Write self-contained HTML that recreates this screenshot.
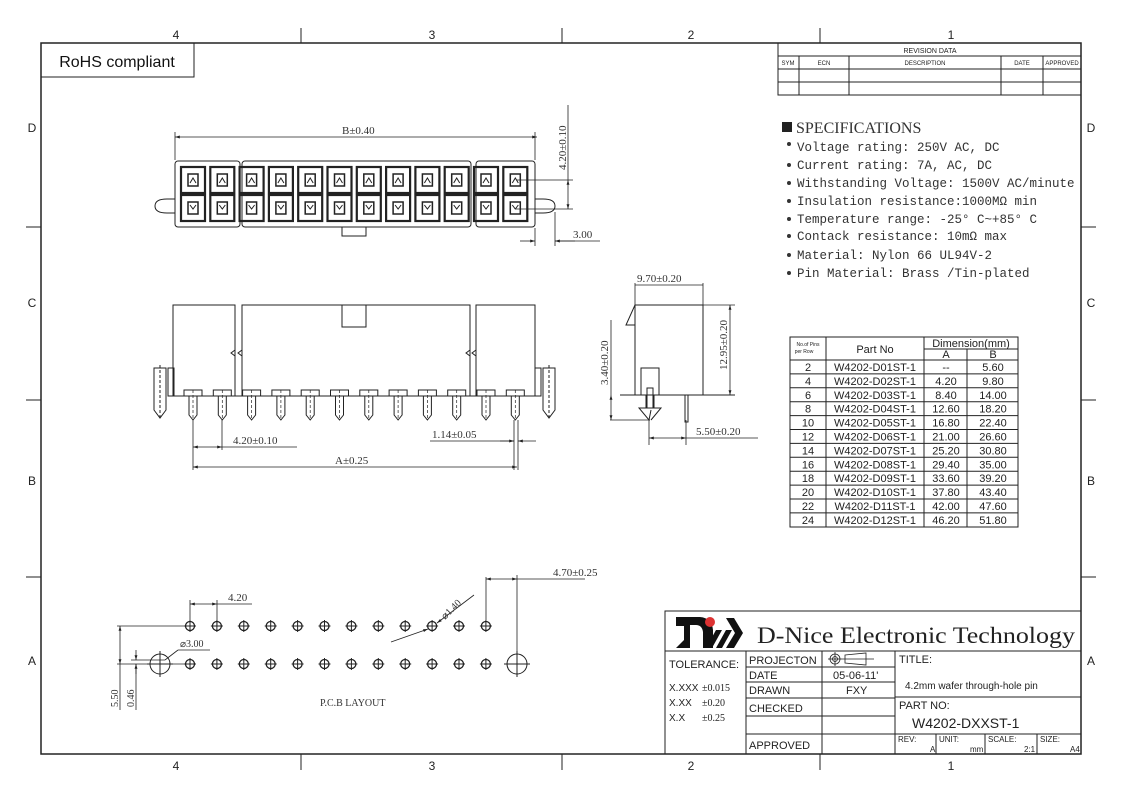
<!DOCTYPE html>
<html><head><meta charset="utf-8"><style>
html,body{margin:0;padding:0;background:#fff}
svg{display:block}
.s{font-family:"Liberation Serif",serif}
.a{font-family:"Liberation Sans",sans-serif}
.m{font-family:"Liberation Mono",monospace}
</style></head><body>
<svg id="sv" width="1123" height="794" viewBox="0 0 1123 794" xmlns="http://www.w3.org/2000/svg" fill="none" stroke="#222" stroke-width="1">
<defs>
<marker id="ar" viewBox="0 0 10 10" refX="10" refY="5" markerWidth="8" markerHeight="6" orient="auto-start-reverse"><path d="M0,2 L10,5 L0,8 z" fill="#222" stroke="none"/></marker>
</defs>
<rect x="41" y="43" width="1040" height="711" stroke-width="1.5"/>
<g stroke-width="1">
<line x1="301" y1="28" x2="301" y2="43"/><line x1="562" y1="28" x2="562" y2="43"/><line x1="820" y1="28" x2="820" y2="43"/>
<line x1="301" y1="754" x2="301" y2="770"/><line x1="562" y1="754" x2="562" y2="770"/><line x1="820" y1="754" x2="820" y2="770"/>
<line x1="26" y1="227" x2="41" y2="227"/><line x1="26" y1="400" x2="41" y2="400"/><line x1="26" y1="577" x2="41" y2="577"/>
<line x1="1081" y1="227" x2="1096" y2="227"/><line x1="1081" y1="400" x2="1096" y2="400"/><line x1="1081" y1="577" x2="1096" y2="577"/>
</g>
<g class="a" fill="#222" stroke="none" font-size="12" text-anchor="middle">
<text x="176" y="39">4</text><text x="432" y="39">3</text><text x="691" y="39">2</text><text x="951" y="39">1</text>
<text x="176" y="770">4</text><text x="432" y="770">3</text><text x="691" y="770">2</text><text x="951" y="770">1</text>
<text x="32" y="132">D</text><text x="32" y="307">C</text><text x="32" y="485">B</text><text x="32" y="665">A</text>
<text x="1091" y="132">D</text><text x="1091" y="307">C</text><text x="1091" y="485">B</text><text x="1091" y="665">A</text>
</g>
<rect x="41" y="43" width="153" height="34"/>
<text x="117" y="67" class="a" font-size="16" fill="#111" stroke="none" text-anchor="middle">RoHS compliant</text>

<g stroke-width="1">
<rect x="778" y="43" width="303" height="52"/>
<line x1="778" y1="56" x2="1081" y2="56"/><line x1="778" y1="69" x2="1081" y2="69"/><line x1="778" y1="82" x2="1081" y2="82"/>
<line x1="799" y1="56" x2="799" y2="95"/><line x1="849" y1="56" x2="849" y2="95"/><line x1="1001" y1="56" x2="1001" y2="95"/><line x1="1043" y1="56" x2="1043" y2="95"/>
</g>
<g class="a" fill="#222" stroke="none" font-size="6" text-anchor="middle">
<text x="930" y="53" font-size="7">REVISION  DATA</text>
<text x="788" y="65">SYM</text><text x="824" y="65">ECN</text><text x="925" y="65">DESCRIPTION</text><text x="1022" y="65">DATE</text><text x="1062" y="65">APPROVED</text>
</g>

<rect x="782" y="122" width="10" height="10" fill="#222" stroke="none"/>
<text x="796" y="133" class="s" font-size="16" fill="#333" stroke="none">SPECIFICATIONS</text>
<g class="m" fill="#333" stroke="none" font-size="12.5">
<text x="797" y="151">Voltage rating: 250V AC, DC</text>
<text x="797" y="169">Current rating: 7A, AC, DC</text>
<text x="797" y="187">Withstanding Voltage: 1500V AC/minute</text>
<text x="797" y="205">Insulation resistance:1000MΩ min</text>
<text x="797" y="223">Temperature range: -25° C~+85° C</text>
<text x="797" y="240">Contack resistance: 10mΩ max</text>
<text x="797" y="259">Material: Nylon 66 UL94V-2</text>
<text x="797" y="277">Pin Material: Brass /Tin-plated</text>
</g>
<g fill="#333" stroke="none">
<circle cx="789" cy="144" r="2"/><circle cx="789" cy="165" r="2"/><circle cx="789" cy="183" r="2"/><circle cx="789" cy="201" r="2"/><circle cx="789" cy="219" r="2"/><circle cx="789" cy="236" r="2"/><circle cx="789" cy="255" r="2"/><circle cx="789" cy="273" r="2"/>
</g>

<g id="top" stroke-width="1"></g>
<g stroke-width="0.8">
<line x1="175" y1="137" x2="537" y2="137" marker-start="url(#ar)" marker-end="url(#ar)"/>
<line x1="175" y1="132" x2="175" y2="160"/><line x1="535" y1="132" x2="535" y2="160"/>
<line x1="516" y1="180" x2="573" y2="180"/><line x1="516" y1="209" x2="573" y2="209"/>
<line x1="568" y1="105" x2="568" y2="180"/><line x1="568" y1="180" x2="568" y2="209" marker-start="url(#ar)" marker-end="url(#ar)"/>
<line x1="535" y1="228" x2="535" y2="246"/><line x1="555" y1="212" x2="555" y2="246"/>
<line x1="520" y1="241" x2="535" y2="241" marker-end="url(#ar)"/><line x1="575" y1="241" x2="555" y2="241" marker-end="url(#ar)"/>
<line x1="555" y1="241" x2="600" y2="241"/>
</g>
<g class="s" fill="#333" stroke="none" font-size="11">
<text x="342" y="134">B±0.40</text>
<text x="566" y="170" transform="rotate(-90 566 170)">4.20±0.10</text>
<text x="573" y="238">3.00</text>
</g>

<g id="side" stroke-width="1"></g>
<g stroke-width="0.8">
<line x1="193" y1="420" x2="193" y2="470"/><line x1="222" y1="420" x2="222" y2="450"/>
<line x1="193" y1="447" x2="222" y2="447" marker-start="url(#ar)" marker-end="url(#ar)"/>
<line x1="222" y1="447" x2="297" y2="447"/>
<line x1="193" y1="467" x2="517" y2="467" marker-start="url(#ar)" marker-end="url(#ar)"/>
<line x1="514" y1="420" x2="514" y2="470"/><line x1="518" y1="420" x2="518" y2="470"/>
<line x1="430" y1="441" x2="514" y2="441"/><line x1="500" y1="441" x2="514" y2="441" marker-end="url(#ar)"/><line x1="536" y1="441" x2="518" y2="441" marker-end="url(#ar)"/>
</g>
<g class="s" fill="#333" stroke="none" font-size="11">
<text x="233" y="444">4.20±0.10</text>
<text x="432" y="438">1.14±0.05</text>
<text x="335" y="464">A±0.25</text>
</g>

<g stroke-width="1">
<rect x="635" y="305" width="68" height="90"/>
<path d="M635,305 L626,325 L635,325"/>
<line x1="620" y1="395" x2="735" y2="395"/>
<rect x="641" y="368" width="18" height="27"/>
<path d="M646,395 L646,408 L639,408 L649,420 L651,410 M654,395 L654,408 L661,408 L651,420"/>
<rect x="647" y="388" width="6" height="20"/>
<path d="M685,395 L685,422 L688,422 L688,395"/>
<line x1="635" y1="283" x2="635" y2="305" stroke-width="0.8"/><line x1="703" y1="283" x2="703" y2="305" stroke-width="0.8"/>
<line x1="635" y1="285" x2="703" y2="285" stroke-width="0.8"/>
<line x1="703" y1="305" x2="735" y2="305" stroke-width="0.8"/>
<line x1="730" y1="305" x2="730" y2="395" stroke-width="0.8" marker-start="url(#ar)" marker-end="url(#ar)"/>
<line x1="610" y1="420" x2="650" y2="420" stroke-width="0.8"/>
<line x1="611" y1="320" x2="611" y2="395" stroke-width="0.8"/>
<line x1="611" y1="395" x2="611" y2="420" stroke-width="0.8" marker-start="url(#ar)" marker-end="url(#ar)"/>
<line x1="649" y1="420" x2="649" y2="445" stroke-width="0.8"/><line x1="686" y1="420" x2="686" y2="445" stroke-width="0.8"/>
<line x1="649" y1="438" x2="686" y2="438" stroke-width="0.8" marker-start="url(#ar)" marker-end="url(#ar)"/>
<line x1="686" y1="438" x2="758" y2="438" stroke-width="0.8"/>
</g>
<g class="s" fill="#333" stroke="none" font-size="11">
<text x="637" y="282">9.70±0.20</text>
<text x="727" y="370" transform="rotate(-90 727 370)">12.95±0.20</text>
<text x="608" y="385" transform="rotate(-90 608 385)">3.40±0.20</text>
<text x="696" y="435">5.50±0.20</text>
</g>

<g stroke-width="1">
<rect x="790" y="337" width="228" height="190"/>
<line x1="826" y1="337" x2="826" y2="527"/><line x1="924" y1="337" x2="924" y2="527"/><line x1="967" y1="349" x2="967" y2="527"/>
<line x1="924" y1="349" x2="1018" y2="349"/>
<line x1="790" y1="360" x2="1018" y2="360"/>
</g>
<g id="tbl"></g>
<g class="a" fill="#222" stroke="none" font-size="11" text-anchor="middle">
<text x="875" y="353">Part  No</text><text x="971" y="347">Dimension(mm)</text>
<text x="946" y="358">A</text><text x="993" y="358">B</text>
<text x="808" y="346" font-size="5">No.of Pins</text><text x="804" y="353" font-size="5">per Row</text>
</g>

<g id="pcb" stroke-width="1"></g>
<g stroke-width="0.8">
<line x1="190" y1="600" x2="190" y2="625"/><line x1="217" y1="600" x2="217" y2="625"/>
<line x1="190" y1="604" x2="217" y2="604" marker-start="url(#ar)" marker-end="url(#ar)"/><line x1="217" y1="604" x2="252" y2="604"/>
<line x1="117" y1="626" x2="190" y2="626"/><line x1="117" y1="664" x2="190" y2="664"/>
<line x1="120" y1="626" x2="120" y2="664" marker-start="url(#ar)" marker-end="url(#ar)"/>
<line x1="120" y1="664" x2="120" y2="710"/>
<line x1="131" y1="660" x2="165" y2="660"/>
<line x1="136" y1="650" x2="136" y2="660" marker-end="url(#ar)"/><line x1="136" y1="674" x2="136" y2="664" marker-end="url(#ar)"/>
<line x1="136" y1="664" x2="136" y2="710"/>
<line x1="165" y1="660" x2="178" y2="650"/><line x1="178" y1="650" x2="210" y2="650"/>
<line x1="486" y1="577" x2="486" y2="620"/><line x1="517" y1="575" x2="517" y2="670"/>
<line x1="486" y1="579" x2="517" y2="579" marker-start="url(#ar)" marker-end="url(#ar)"/><line x1="517" y1="579" x2="585" y2="579"/>
<line x1="391" y1="642" x2="428" y2="629" marker-end="url(#ar)"/>
<line x1="474" y1="595" x2="437" y2="623" marker-end="url(#ar)"/>
</g>
<g class="s" fill="#333" stroke="none" font-size="11">
<text x="228" y="601">4.20</text>
<text x="180" y="647" font-size="10">⌀3.00</text>
<text x="553" y="576">4.70±0.25</text>
<text x="445" y="620" transform="rotate(-45 445 620)" font-size="10">⌀1.40</text>
<text x="118" y="707" transform="rotate(-90 118 707)" font-size="10">5.50</text>
<text x="134" y="707" transform="rotate(-90 134 707)" font-size="10">0.46</text>
<text x="320" y="706" font-size="10">P.C.B   LAYOUT</text>
</g>

<g stroke-width="1">
<rect x="665" y="611" width="416" height="143"/>
<line x1="665" y1="651" x2="1081" y2="651"/>
<line x1="746" y1="651" x2="746" y2="754"/><line x1="822" y1="651" x2="822" y2="754"/><line x1="895" y1="651" x2="895" y2="754"/>
<line x1="746" y1="667" x2="895" y2="667"/><line x1="746" y1="682" x2="895" y2="682"/><line x1="746" y1="698" x2="895" y2="698"/><line x1="746" y1="716" x2="895" y2="716"/><line x1="746" y1="734" x2="1081" y2="734"/>
<line x1="895" y1="697" x2="1081" y2="697"/>
<line x1="936" y1="734" x2="936" y2="754"/><line x1="985" y1="734" x2="985" y2="754"/><line x1="1037" y1="734" x2="1037" y2="754"/>
</g>
<g fill="#111" stroke="none">
<path d="M676,617 L700,617 Q712,618 713,630 L713,648 L703,648 L703,632 Q702,625 696,625 L690,625 L690,648 L676,648 L684,640 L684,626 L676,626 z"/>
<path d="M706,648 L716,630 L722,630 L712,648 z"/>
<path d="M716,648 L726,630 L732,630 L722,648 z"/>
<path d="M726,648 L735,633 L726,618 L734,618 L743,633 L734,648 z"/>
</g>
<circle cx="710" cy="622" r="5" fill="#d33" stroke="none"/>
<text x="757" y="643" class="s" font-size="23" fill="#222" stroke="none" textLength="318" lengthAdjust="spacingAndGlyphs">D-Nice Electronic Technology</text>
<g stroke-width="0.8">
<circle cx="835" cy="659" r="5"/><circle cx="835" cy="659" r="2.5"/><line x1="828" y1="659" x2="842" y2="659"/><line x1="835" y1="652" x2="835" y2="666"/>
<path d="M845,655 L866,653 L866,665 L845,663 z"/><line x1="842" y1="659" x2="874" y2="659"/>
</g>
<g class="a" fill="#222" stroke="none" font-size="11">
<text x="669" y="668">TOLERANCE:</text>
<text x="669" y="691" font-size="10">X.XXX</text><text x="669" y="706" font-size="10">X.XX</text><text x="669" y="721" font-size="10">X.X</text>
<text x="749" y="664">PROJECTON</text><text x="749" y="679">DATE</text><text x="749" y="694">DRAWN</text><text x="749" y="712">CHECKED</text><text x="749" y="749">APPROVED</text>
<text x="833" y="679">05-06-11'</text><text x="846" y="694">FXY</text>
<text x="899" y="663">TITLE:</text>
<text x="905" y="689" font-size="10">4.2mm wafer through-hole pin</text>
<text x="899" y="709">PART  NO:</text>
<text x="912" y="728" font-size="14">W4202-DXXST-1</text>
<g font-size="8"><text x="898" y="742">REV:</text><text x="930" y="752">A</text><text x="939" y="742">UNIT:</text><text x="970" y="752">mm</text><text x="988" y="742">SCALE:</text><text x="1024" y="752">2:1</text><text x="1040" y="742">SIZE:</text><text x="1070" y="752">A4</text></g>
</g>
<g class="s" fill="#222" stroke="none" font-size="10">
<text x="702" y="691">±0.015</text><text x="702" y="706">±0.20</text><text x="702" y="721">±0.25</text>
</g>
</svg>
<script>
var NS="http://www.w3.org/2000/svg";
function el(p,t,a){var e=document.createElementNS(NS,t);for(var k in a)e.setAttribute(k,a[k]);p.appendChild(e);return e;}
var xs=[];for(var i=0;i<12;i++)xs.push(193+i*29.3);
var g=document.getElementById('top');
el(g,'rect',{x:175,y:161,width:65,height:66,rx:3});
el(g,'rect',{x:242,y:161,width:229,height:66,rx:3});
el(g,'rect',{x:476,y:161,width:59,height:66,rx:3});
el(g,'path',{d:'M167,199 Q155,199 155,206 Q155,213 167,213 L175,213 M167,199 L175,199'});
el(g,'path',{d:'M543,199 Q555,199 555,206 Q555,213 543,213 L535,213 M543,199 L535,199'});
el(g,'rect',{x:342,y:227,width:24,height:9});
xs.forEach(function(x){
 [167,195].forEach(function(y,r){
  el(g,'rect',{x:x-12,y:y,width:24,height:26,'stroke-width':2.2});
  el(g,'rect',{x:x-5,y:y+7,width:10,height:12,'stroke-width':1.5});
  el(g,'path',{d:r?'M'+(x-3)+','+(y+10)+' L'+x+','+(y+14)+' L'+(x+3)+','+(y+10):'M'+(x-3)+','+(y+16)+' L'+x+','+(y+11)+' L'+(x+3)+','+(y+16)});
 });
});
var s=document.getElementById('side');
el(s,'path',{d:'M173,396 L173,305 L235,305 L235,396'});
el(s,'path',{d:'M242,396 L242,305 L470,305 L470,396'});
el(s,'path',{d:'M476,396 L476,305 L535,305 L535,396'});
el(s,'path',{d:'M235,350 L231,353 L235,356 M242,350 L238,353 L242,356 M470,350 L466,353 L470,356 M476,350 L472,353 L476,356'});
el(s,'rect',{x:342,y:305,width:24,height:22});
el(s,'line',{x1:173,y1:396,x2:535,y2:396});
el(s,'rect',{x:168,y:368,width:6,height:28});el(s,'rect',{x:535,y:368,width:6,height:28});
[160,549].forEach(function(x){el(s,'path',{d:'M'+(x-6)+',368 L'+(x+6)+',368 L'+(x+6)+',410 L'+x+',418 L'+(x-6)+',410 z'});el(s,'line',{x1:x,y1:365,x2:x,y2:420,'stroke-dasharray':'3,2'});});
xs.forEach(function(x){
 el(s,'rect',{x:x-9,y:390,width:18,height:6});
 el(s,'path',{d:'M'+(x-4)+',396 L'+(x-4)+',415 L'+x+',420 L'+(x+4)+',415 L'+(x+4)+',396'});
 el(s,'line',{x1:x,y1:390,x2:x,y2:420,'stroke-dasharray':'3,2','stroke-width':0.7});
});
var p=document.getElementById('pcb');
for(var i=0;i<12;i++){var x=190+i*26.9;[626,664].forEach(function(y){el(p,'circle',{cx:x,cy:y,r:4.5,'stroke-width':1.3});el(p,'line',{x1:x-6,y1:y,x2:x+6,y2:y});el(p,'line',{x1:x,y1:y-6,x2:x,y2:y+6});});}
[160,517].forEach(function(x){el(p,'circle',{cx:x,cy:664,r:10});el(p,'line',{x1:x-13,y1:664,x2:x+13,y2:664});el(p,'line',{x1:x,y1:651,x2:x,y2:677});});
var rows=[["2","W4202-D01ST-1","--","5.60"],["4","W4202-D02ST-1","4.20","9.80"],["6","W4202-D03ST-1","8.40","14.00"],["8","W4202-D04ST-1","12.60","18.20"],["10","W4202-D05ST-1","16.80","22.40"],["12","W4202-D06ST-1","21.00","26.60"],["14","W4202-D07ST-1","25.20","30.80"],["16","W4202-D08ST-1","29.40","35.00"],["18","W4202-D09ST-1","33.60","39.20"],["20","W4202-D10ST-1","37.80","43.40"],["22","W4202-D11ST-1","42.00","47.60"],["24","W4202-D12ST-1","46.20","51.80"]];
var t=document.getElementById('tbl');
rows.forEach(function(r,i){var y=360+i*13.9;if(i)el(t,'line',{x1:790,y1:y,x2:1018,y2:y});
 var cx=[808,875,946,993];r.forEach(function(v,j){var e=el(t,'text',{x:cx[j],y:y+11,'font-family':'Liberation Sans,sans-serif','font-size':11,fill:'#222',stroke:'none','text-anchor':'middle'});e.textContent=v;});});
</script>
</body></html>
